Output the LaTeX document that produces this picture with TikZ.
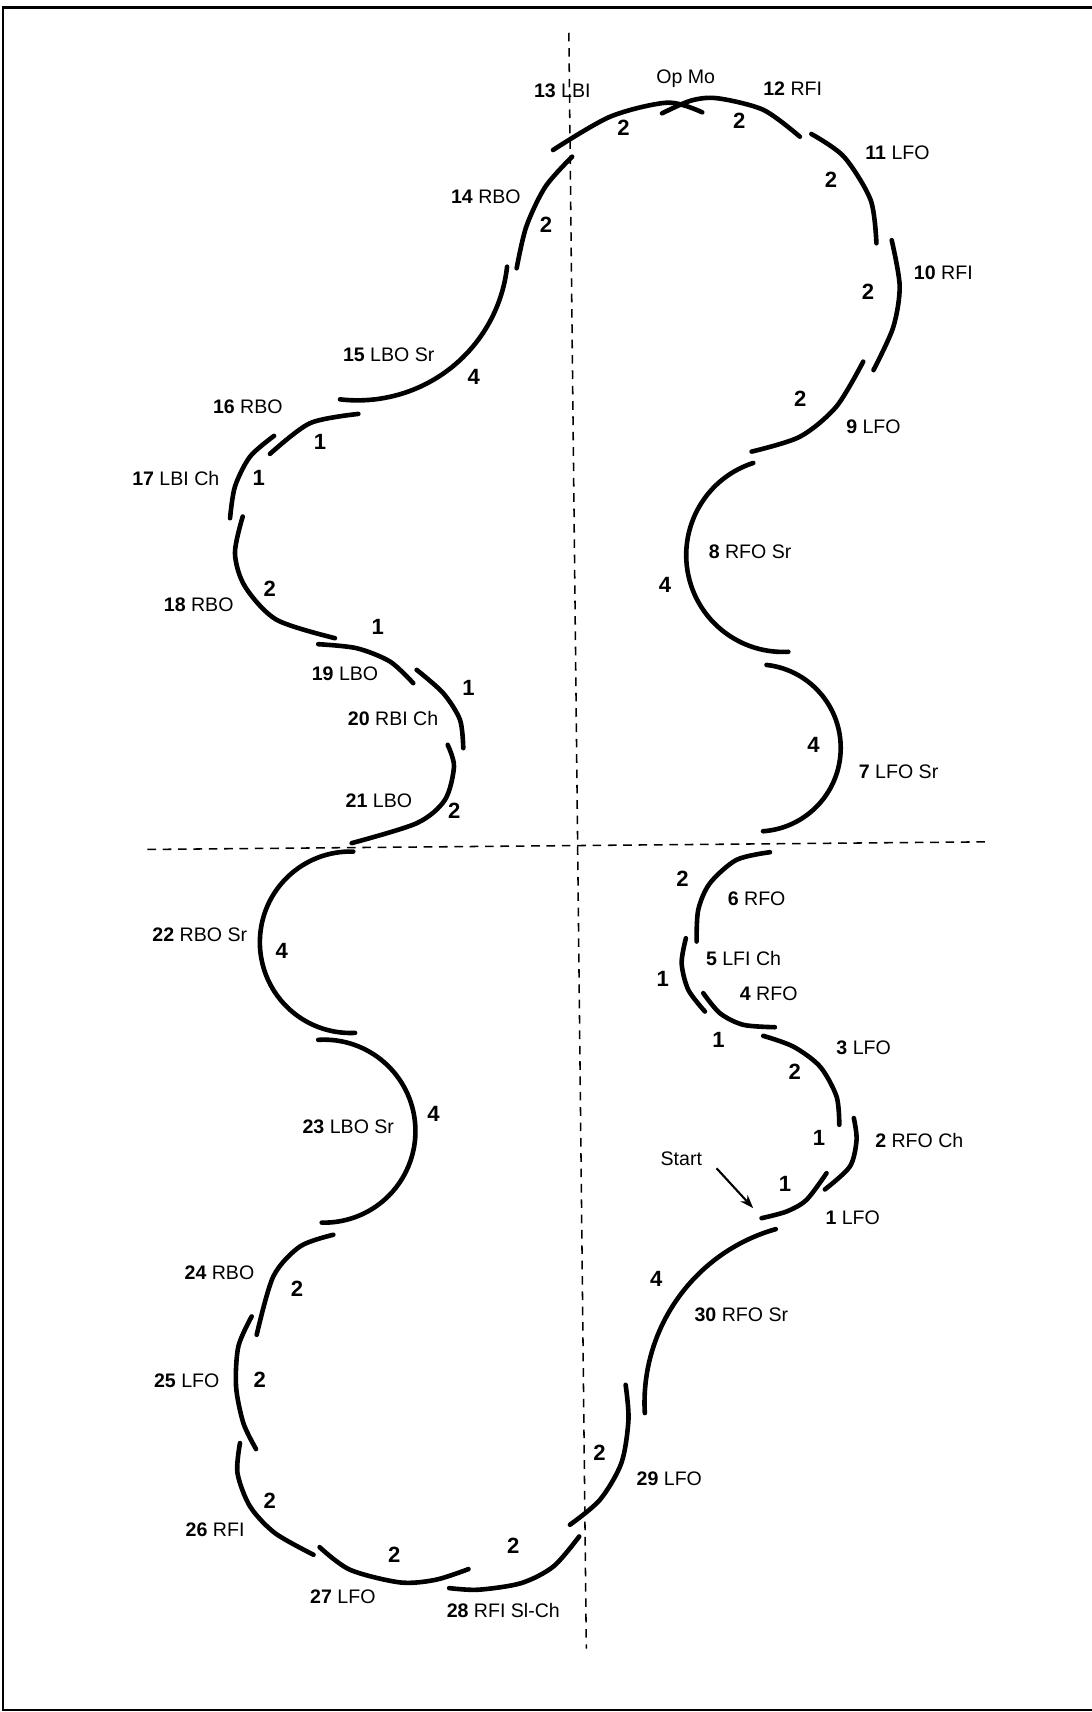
\documentclass[tikz,border=0pt]{standalone}
\usepackage{fontspec}
\setmainfont{Liberation Sans}
\usetikzlibrary{arrows.meta, calc}

\begin{document}
\begin{tikzpicture}[x=0.2mm, y=-0.2mm,
    edge/.style={line width=2.4pt, line cap=round},
    axis/.style={line width=0.8pt, dash pattern=on 4.5pt off 3.5pt},
    lbl/.style={font=\fontsize{10.2}{12}\selectfont, inner sep=0pt},
    cnt/.style={font=\fontsize{11.5}{13}\selectfont\bfseries, inner sep=0pt}]

    \useasboundingbox (0,0) rectangle (1000,1568);
    % frame
    \draw[line width=1.2pt] (1010,7) -- (3,7) -- (3,1566) -- (1010,1566);

    % axes
    \draw[axis] (521,30) -- (537,1510);
    \draw[axis] (135,778) -- (906,771);

    % edges 1 - 13
    \draw[edge] plot[smooth] coordinates {(757,1074.5) (738.7,1098.9) (720.4,1109.6) (697.5,1115.7)};
    \draw[edge] plot[smooth] coordinates {(782,1024) (784.5,1044) (778.4,1068.4) (755.5,1089.4)};
    \draw[edge] plot[smooth] coordinates {(699,948.7) (726.5,958.5) (751,976.8) (766.2,1004.3) (768.7,1030.2)};
    \draw[edge] plot[smooth] coordinates {(644.1,909.6) (659.4,928) (680.7,938.6) (709.7,940.8)};
    \draw[edge] plot[smooth] coordinates {(628.2,859.3) (624.3,882.2) (630.4,906.6) (645.6,926.4)};
    \draw[edge] plot[smooth] coordinates {(705.2,780.5) (674.6,787.5) (650.2,808.9) (639.5,833.3) (638,862.3)};
    \draw[edge] (693.5,685) ++(-83.6:76.5) arc[start angle=-83.6, end angle=86, radius=76.5];
    \draw[edge] (717.2,508.4) ++(-107.9:88.7) arc[start angle=-107.9, end angle=-273.1, radius=88.7];
    \draw[edge] plot[smooth] coordinates {(790.6,331.2) (766,372.4) (732.6,400) (688.4,413.6)};
    \draw[edge] plot[smooth] coordinates {(816.7,220) (824,262) (818,300) (800,339)};
    \draw[edge] plot[smooth] coordinates {(743.1,122.7) (772.9,143.5) (797.4,183.2) (802.7,222.8)};
    \draw[edge] plot[smooth] coordinates {(606.4,103.8) (632.7,92.2) (657.2,90) (699.3,100.7) (732.6,125.2)};
    \draw[edge] plot[smooth] coordinates {(506.5,137.4) (559,106.8) (611.6,94) (643.2,102.9)};

    % edges 14 - 30
    \draw[edge] plot[smooth] coordinates {(524,143.5) (499.5,171) (482,207.6) (473.2,245.7)};
    \draw[edge] (327.5,228.9) ++(6.4:137.8) arc[start angle=6.4, end angle=96.7, radius=137.8];
    \draw[edge] plot[smooth] coordinates {(328.2,379.1) (283.9,387.6) (247.3,415.7)};
    \draw[edge] plot[smooth] coordinates {(251,399.2) (229,418.2) (215.2,445.6) (210.7,474.6)};
    \draw[edge] plot[smooth] coordinates {(222.3,473.1) (215.2,506.7) (224.4,537.2) (253.4,567.7) (306.8,584.5)};
    \draw[edge] plot[smooth] coordinates {(291.5,590) (326.7,593.7) (357.2,605.9) (378.5,625.7)};
    \draw[edge] plot[smooth] coordinates {(381.6,613.5) (406,634.9) (421.3,659.3) (424.3,685.2)};
    \draw[edge] plot[smooth] coordinates {(410,682.2) (415.8,702) (407.5,732.6) (381.6,754) (322.1,772.2)};
    \draw[edge] (321.1,863) ++(-88.3:83.1) arc[start angle=-88.3, end angle=-272.8, radius=83.1];
    \draw[edge] (296.7,1036) ++(-93.6:83.8) arc[start angle=-93.6, end angle=91.4, radius=83.8];
    \draw[edge] plot[smooth] coordinates {(305.3,1130.9) (274.8,1141.6) (250.3,1169.1) (235.1,1222.5)};
    \draw[edge] plot[smooth] coordinates {(230.5,1205.7) (218.3,1233.2) (216.2,1269.8) (222.9,1303.4) (234.5,1327.2)};
    \draw[edge] plot[smooth] coordinates {(219.8,1321.7) (217.5,1349.2) (229,1379.7) (251.8,1404.1) (287.2,1424)};
    \draw[edge] plot[smooth] coordinates {(292.7,1417) (320.5,1437.7) (366.3,1449.3) (399,1446.9) (429.1,1437.1)};
    \draw[edge] plot[smooth] coordinates {(411.4,1454.5) (438.2,1456) (477.5,1449.9) (507,1434.6) (530.5,1407.2)};
    \draw[edge] plot[smooth] coordinates {(573,1268.3) (575.6,1300.3) (569.1,1340) (549.5,1373.6) (522,1396.5)};
    \draw[edge] (755.5,1284.7) ++(-105.8:165.2) arc[start angle=-105.8, end angle=-183.3, radius=165.2];

    % labels
    \node[lbl] (l1) at (781,1115) {\textbf{1} LFO};
    \node[cnt] (c1) at (719,1084) {1};
    \node[lbl] (l2) at (842,1045) {\textbf{2} RFO Ch};
    \node[cnt] (c2) at (750,1042) {1};
    \node[lbl] (l3) at (791,960) {\textbf{3} LFO};
    \node[cnt] (c3) at (728,982) {2};
    \node[lbl] (l4) at (704,910) {\textbf{4} RFO};
    \node[cnt] (c4) at (658,952) {1};
    \node[lbl] (l5) at (681,878) {\textbf{5} LFI Ch};
    \node[cnt] (c5) at (607,897) {1};
    \node[lbl] (l6) at (693,823) {\textbf{6} RFO};
    \node[cnt] (c6) at (625,805) {2};
    \node[lbl] (l7) at (823,707) {\textbf{7} LFO Sr};
    \node[cnt] (c7) at (745,682) {4};
    \node[lbl] (l8) at (687,505) {\textbf{8} RFO Sr};
    \node[cnt] (c8) at (609,536) {4};
    \node[lbl] (l9) at (800,391) {\textbf{9} LFO};
    \node[cnt] (c9) at (733,365) {2};
    \node[lbl] (l10) at (864,250) {\textbf{10} RFI};
    \node[cnt] (c10) at (795,267) {2};
    \node[lbl] (l11) at (822,140) {\textbf{11} LFO};
    \node[cnt] (c11) at (761,165) {2};
    \node[lbl] (l12) at (726,81) {\textbf{12} RFI};
    \node[cnt] (c12) at (677,111) {2};
    \node[lbl] (mo) at (628,72) {Op Mo};
    \node[lbl] (l13) at (515,83) {\textbf{13} LBI};
    \node[cnt] (c13) at (571,117) {2};
    \node[lbl] (l14) at (445,180) {\textbf{14} RBO};
    \node[cnt] (c14) at (500,206) {2};
    \node[lbl] (l15) at (356,325) {\textbf{15} LBO Sr};
    \node[cnt] (c15) at (434,345) {4};
    \node[lbl] (l16) at (227,373) {\textbf{16} RBO};
    \node[cnt] (c16) at (293,405) {1};
    \node[lbl] (l17) at (161,438) {\textbf{17} LBI Ch};
    \node[cnt] (c17) at (237,438) {1};
    \node[lbl] (l18) at (182,554) {\textbf{18} RBO};
    \node[cnt] (c18) at (247,539) {2};
    \node[lbl] (l19) at (316,617) {\textbf{19} LBO};
    \node[cnt] (c19) at (346,574) {1};
    \node[lbl] (l20) at (360,658) {\textbf{20} RBI Ch};
    \node[cnt] (c20) at (429,630) {1};
    \node[lbl] (l21) at (347,733) {\textbf{21} LBO};
    \node[cnt] (c21) at (416,743) {2};
    \node[lbl] (l22) at (183,856) {\textbf{22} RBO Sr};
    \node[cnt] (c22) at (258,871) {4};
    \node[lbl] (l23) at (319,1032) {\textbf{23} LBO Sr};
    \node[cnt] (c23) at (397,1020) {4};
    \node[lbl] (l24) at (201,1166) {\textbf{24} RBO};
    \node[cnt] (c24) at (272,1180) {2};
    \node[lbl] (l25) at (171,1265) {\textbf{25} LFO};
    \node[cnt] (c25) at (238,1264) {2};
    \node[lbl] (l26) at (197,1401) {\textbf{26} RFI};
    \node[cnt] (c26) at (247,1375) {2};
    \node[lbl] (l27) at (314,1462) {\textbf{27} LFO};
    \node[cnt] (c27) at (361,1424) {2};
    \node[lbl] (l28) at (461,1475) {\textbf{28} RFI Sl-Ch};
    \node[cnt] (c28) at (470,1416) {2};
    \node[lbl] (l29) at (613,1354) {\textbf{29} LFO};
    \node[cnt] (c29) at (549,1331) {2};
    \node[lbl] (l30) at (679,1204) {\textbf{30} RFO Sr};
    \node[cnt] (c30) at (601,1171) {4};

    % start
    \node[lbl] (start) at (624,1061) {Start};
    \coordinate (entry) at (689.8,1106.5);
    \draw[line width=1.1pt, -{Stealth[length=7pt, width=5pt]}] ([shift={(13,9)}]start.east) -- (entry);
\end{tikzpicture}
\end{document}
